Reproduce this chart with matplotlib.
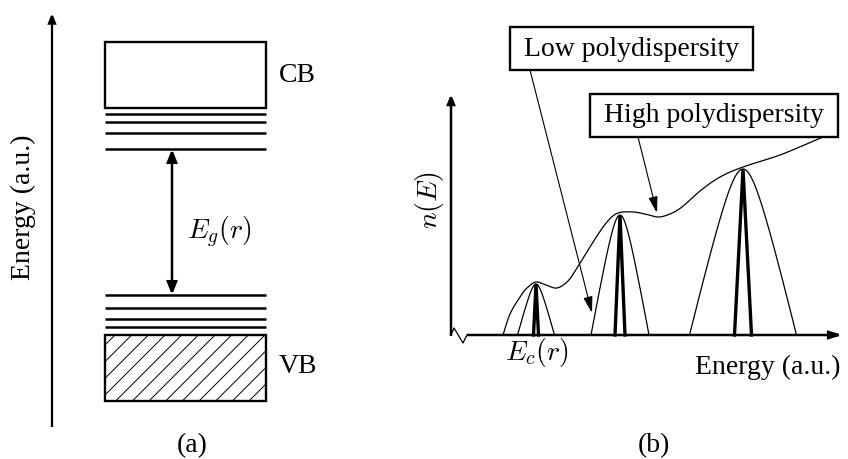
import numpy as np
import matplotlib
matplotlib.use("Agg")
import matplotlib.pyplot as plt
from matplotlib.patches import Rectangle, FancyArrowPatch

plt.rcParams['mathtext.fontset'] = 'cm'
plt.rcParams['font.family'] = ['Liberation Serif', 'DejaVu Serif']
plt.rcParams['hatch.linewidth'] = 0.7

# ---------------- data (schematic, pixel units) ------------
# panel (a): band diagram
cb_box = [105, 43, 266, 109]          # x0, y0, x1, y1
vb_box = [105, 336, 266, 402]
cb_levels = [115, 123, 134, 150]      # discrete levels under the conduction band
vb_levels = [296, 309, 320, 328]      # discrete levels above the valence band
gap_x = 172

# panel (b): density of states
peak_centers = [536, 620, 743]
peak_tops = [285, 216, 170]
narrow_halfwidths = [18.5, 29, 53.5]   # low polydispersity envelopes
delta_halfwidths = [2.5, 5, 8.5]       # single-size (delta-like) peaks
baseline = 336

high_x = [503, 510, 520, 527, 536, 546, 557, 568, 577, 593, 607, 618, 633, 645,
          658, 670, 682, 700, 720, 743, 780, 823]
high_y = [336, 315, 298, 289, 283, 286, 289, 282, 269, 243, 223, 214, 213, 215,
          218, 215, 208, 192, 178, 168, 156, 138]

# ---------------- figure -------------------------------------------------------------
fig = plt.figure(figsize=(8.48, 4.6), dpi=100)
ax = fig.add_axes([0, 0, 1, 1])
ax.set_xlim(0, 848)
ax.set_ylim(460, 0)
ax.axis('off')

FS = 20
K = 'black'


def arrow(p0, p1, lw, hl, hw, style='-|>'):
    a = FancyArrowPatch(p0, p1, arrowstyle=f'{style},head_length={hl},head_width={hw}',
                        mutation_scale=10, lw=lw, color=K, shrinkA=0, shrinkB=0,
                        joinstyle='miter', capstyle='butt')
    ax.add_patch(a)


# ---- panel (a)
arrow((52, 428), (52, 14), 1.6, 0.55, 0.22)
ax.text(23, 207, 'Energy (a.u.)', rotation=90, ha='center', va='center', fontsize=FS)

ax.add_patch(Rectangle((cb_box[0], cb_box[1]), cb_box[2] - cb_box[0], cb_box[3] - cb_box[1],
                       fill=False, lw=1.7, ec=K))
ax.add_patch(Rectangle((vb_box[0], vb_box[1]), vb_box[2] - vb_box[0], vb_box[3] - vb_box[1],
                       fill=False, lw=1.7, ec=K, hatch='//'))
for y in cb_levels + vb_levels:
    ax.plot([cb_box[0], cb_box[2]], [y, y], color=K, lw=1.8, solid_capstyle='butt')

arrow((gap_x, cb_levels[-1]), (gap_x, vb_levels[0]), 1.8, 0.75, 0.3, style='<|-|>')
ax.text(187, 232, r'$E_g(r)$', ha='left', va='center', fontsize=FS)
ax.text(279, 75, 'CB', ha='left', va='center', fontsize=FS)
ax.text(279, 367, 'VB', ha='left', va='center', fontsize=FS)
ax.text(192, 446, '(a)', ha='center', va='center', fontsize=FS)

# ---- panel (b)
arrow((451, baseline + 1), (451, 95), 1.8, 0.55, 0.22)
ax.plot([451, 454, 463, 467], [baseline, 329, 344, baseline], color=K, lw=0.9)
arrow((467, baseline), (843, baseline), 1.8, 0.75, 0.22)
ax.text(430, 200, r'$n(E)$', rotation=90, ha='center', va='center', fontsize=FS)

E = 0.3
for c, t, w, d in zip(peak_centers, peak_tops, narrow_halfwidths, delta_halfwidths):
    u = np.linspace(-1, 1, 300)
    shape = (np.sqrt(1 + E ** 2) - np.sqrt(u ** 2 + E ** 2)) / (np.sqrt(1 + E ** 2) - E)
    ax.plot(c + w * u, baseline - (baseline - t) * shape, color=K, lw=0.9)
    ax.plot([c - d, c, c + d], [baseline, t, baseline], color=K, lw=2.4,
            solid_joinstyle='miter')


def catmull_rom(xs, ys, n=30):
    P = np.column_stack([xs, ys]).astype(float)
    P = np.vstack([2 * P[0] - P[1], P, 2 * P[-1] - P[-2]])
    out = []
    t = np.linspace(0, 1, n)[:, None]
    for i in range(1, len(P) - 2):
        p0, p1, p2, p3 = P[i - 1], P[i], P[i + 1], P[i + 2]
        seg = 0.5 * (2 * p1 + (-p0 + p2) * t + (2 * p0 - 5 * p1 + 4 * p2 - p3) * t ** 2
                     + (-p0 + 3 * p1 - 3 * p2 + p3) * t ** 3)
        out.append(seg)
    return np.vstack(out)


curve = catmull_rom(high_x, high_y)
ax.plot(curve[:, 0], curve[:, 1], color=K, lw=0.9)

# labels in boxes
ax.add_patch(Rectangle((510, 28), 243, 43, fill=False, lw=1.7, ec=K))
ax.text(631.5, 49, 'Low polydispersity', ha='center', va='center', fontsize=FS)
ax.add_patch(Rectangle((590, 95), 248, 43, fill=False, lw=1.7, ec=K))
ax.text(714, 116, 'High polydispersity', ha='center', va='center', fontsize=FS)

arrow((530, 71), (592, 314), 0.8, 1.0, 0.28)
arrow((638, 138), (657, 214), 0.8, 1.0, 0.28)

ax.text(505, 353, r'$E_c(r)$', ha='left', va='center', fontsize=FS)
ax.text(695, 367, 'Energy (a.u.)', ha='left', va='center', fontsize=FS)
ax.text(654, 446, '(b)', ha='center', va='center', fontsize=FS)

fig.savefig('out.png', dpi=100)
